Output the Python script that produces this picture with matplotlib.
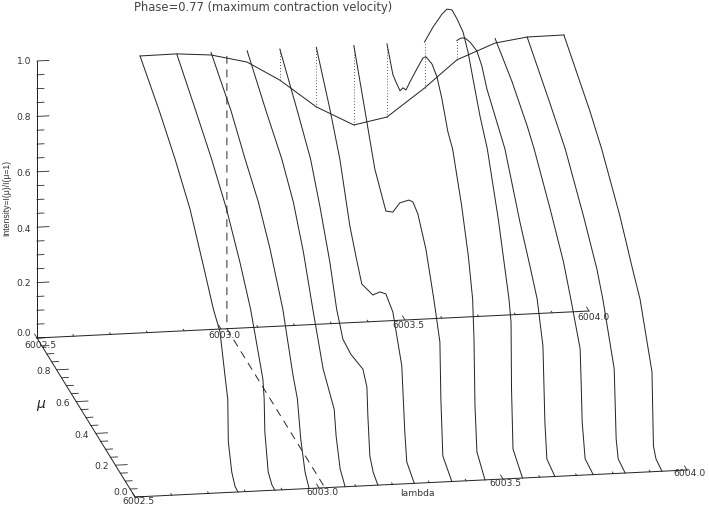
import matplotlib
matplotlib.use('Agg')
import matplotlib.pyplot as plt
import numpy as np

# wavelength of each mu-curve
lambdas = [6002.780, 6002.880, 6002.973, 6003.071, 6003.160, 6003.259, 6003.361,
           6003.451, 6003.553, 6003.641, 6003.745, 6003.832, 6003.932]

# intensity of the line profile at mu=1
profile = [1.000, 1.001, 0.991, 0.959, 0.888, 0.785, 0.713, 0.736, 0.834, 0.930, 0.984, 1.000, 1.001]

mu_curves = [
    [1, .80, .643, .490, .354, .252, .184, .133, .105, .099, .064, .03, 0],
    [1, .806, .646, .493, .357, .248, .194, .122, .109, .102, .068, .03, 0],
    [1, .796, .653, .517, .398, .268, .163, .119, .085, .041, 0],
    [1, .806, .646, .528, .426, .330, .224, .112, .092, .051, 0],
    [1, .827, .687, .592, .490, .421, .357, .276, .153, .112, .102, .082, .048, 0],
    [1, .862, .760, .658, .590, .536, .423, .352, .291, .219, .128, .097, .077, 0],
    [1, .898, .786, .673, .602, .531, .439, .398, .347, .265, .184, .122, .112, .092, 0],
    [1, .939, .908, .867, .837, .806, .765, .694, .633, .602, .541, .490, .439, .378, .330, .238, .170, .126, .112, .102, .082, 0],
    [1, .913, .821, .770, .719, .668, .607, .556, .505, .434, .359, .247, .179, .138, .117, .112, .097, 0],
    [1, .959, .918, .867, .796, .745, .694, .510, .357, .255, .181, .122, .102, .082, 0],
    [1, .827, .673, .602, .439, .303, .228, .133, .122, .112, .082, 0],
    [1, .765, .612, .426, .289, .228, .112, .092, .071, 0],
    [1, .735, .615, .429, .293, .224, .102, .092, .087, .061, 0],
]

int_curves = [
    [1, .913, .833, .740, .614, .516, .472, .343, .275, .124, .035, .002, 0],
    [1, .906, .825, .732, .619, .512, .435, .331, .267, .152, .027, .002, 0],
    [1, .906, .815, .737, .636, .494, .313, .255, .130, .036, 0],
    [1, .893, .812, .724, .603, .452, .296, .216, .130, .035, 0],
    [1, .883, .783, .667, .524, .394, .322, .314, .331, .290, .190, .058, .019, 0],
    [1, .857, .735, .552, .471, .412, .437, .489, .517, .493, .351, .130, .033, 0],
    [1, .847, .677, .590, .627, .701, .764, .781, .767, .687, .553, .434, .234, .039, 0],
    [1, .923, .915, .907, .935, .945, .998, 1.086, 1.160, 1.182, 1.191, 1.174, 1.123, 1.039, 1.005, .853, .711, .581, .445, .209, .054, 0],
    [1, 1.104, 1.204, 1.251, 1.277, 1.274, 1.262, 1.219, 1.151, 1.058, .982, .793, .652, .567, .496, .257, .049, 0],
    [1, 1.032, 1.056, 1.071, 1.079, 1.054, 1.001, .890, .714, .614, .537, .401, .138, .016, 0],
    [1, .943, .872, .830, .707, .594, .503, .378, .257, .126, .010, 0],
    [1, .893, .819, .684, .571, .497, .312, .070, .010, 0],
    [1, .878, .810, .675, .551, .493, .300, .125, .041, .009, 0],
]

z_ticks = [0.0, 0.2, 0.4, 0.6, 0.8, 1.0]
mu_ticks = [0.0, 0.2, 0.4, 0.6, 0.8]
lambda_ticks = [6002.5, 6003.0, 6003.5, 6004.0]
dashed_lambda = 6003.016


def project(lam, mu, inten):
    # oblique projection of the box onto image pixels
    lam = np.asarray(lam, dtype=float) - 6002.5
    x = 135 + 368 * lam - 98 * np.asarray(mu, dtype=float)
    y = 498 - 18 * lam - 159 * np.asarray(mu, dtype=float) - 277 * np.asarray(inten, dtype=float)
    return x, y


def line3d(lam, mu, inten, **kw):
    x, y = project(lam, mu, inten)
    opts = dict(color='#262626', linewidth=0.72)
    opts.update(kw)
    ax.plot(x, y, **opts)


fig = plt.figure(figsize=(7.09, 5.06), dpi=100)
ax = fig.add_axes([0, 0, 1, 1])
ax.set_xlim(0, 709)
ax.set_ylim(506, 0)
ax.axis('off')

# box axes
line3d([6002.5, 6004.0], [1, 1], [0, 0])
line3d([6002.5, 6004.0], [0, 0], [0, 0])
line3d([6002.5, 6002.5], [0, 1], [0, 0])
line3d([6002.5, 6002.5], [1, 1], [0, 1])

for z in np.arange(0, 1.001, 0.05):
    length = 0.0325 if round(z * 100) % 20 == 0 else 0.019
    line3d([6002.5, 6002.5 + length], [1, 1], [z, z], linewidth=0.6)

for m in np.arange(0, 1.001, 0.05):
    length = 0.032 if round(m * 100) % 20 == 0 else 0.019
    line3d([6002.5, 6002.5 + length], [m, m], [0, 0], linewidth=0.6)

for lam in np.arange(6002.5, 6004.01, 0.1):
    major = round((lam - 6002.5) * 10) % 5 == 0
    d = 0.025 if major else 0.01
    line3d([lam, lam], [0, d], [0, 0], linewidth=0.6)
    line3d([lam, lam], [1, 1 + d], [0, 0], linewidth=0.6)

# mu curves
for lam, mus, ints in zip(lambdas, mu_curves, int_curves):
    line3d([lam] * len(mus), mus, ints)

# profile at mu=1 and dotted drop lines
line3d(lambdas, [1] * len(lambdas), profile)
for lam, p in list(zip(lambdas, profile))[4:10]:
    line3d([lam, lam], [1, 1], [p, 1], linewidth=0.6, linestyle=(0, (1, 2.5)))

# dashed guide at the rest wavelength
line3d([dashed_lambda] * 3, [1, 1, 0], [0.985, 0, 0], linewidth=0.7, linestyle=(0, (8, 6)))

font = 'DejaVu Sans'
tick_style = dict(fontsize=6.6, color='#333333', family=font, ha='center', va='center')

for z, yp in zip(z_ticks, [334, 284, 229, 173, 117, 61]):
    ax.text(24, yp, f'{z:.1f}', **tick_style)
for m, xp, yp in zip(mu_ticks, [121, 102, 82, 63, 44], [493, 467, 436, 404, 372]):
    ax.text(xp, yp, f'{m:.1f}', **tick_style)
for lam, xp, yp in zip(lambda_ticks, [138, 322, 505, 690], [502, 493, 484, 474]):
    ax.text(xp, yp, f'{lam:.1f}', **tick_style)
for lam, xp, yp in zip(lambda_ticks, [40, 224, 408, 593], [345, 335, 326, 317]):
    ax.text(xp, yp, f'{lam:.1f}', **tick_style)

ax.text(417, 494, 'lambda', **tick_style)
ax.text(41, 404, 'μ', fontsize=10, style='italic', family=font, color='#222222', ha='center', va='center')
ax.text(7, 198, 'Intensity=I(μ)/I(μ=1)', fontsize=6.2, rotation=90, family='Liberation Sans',
        color='#333333', ha='center', va='center')
ax.text(263, 7, 'Phase=0.77 (maximum contraction velocity)', fontsize=8.3, family=font,
        color='#444444', ha='center', va='center')

fig.savefig('out.png', dpi=100)
